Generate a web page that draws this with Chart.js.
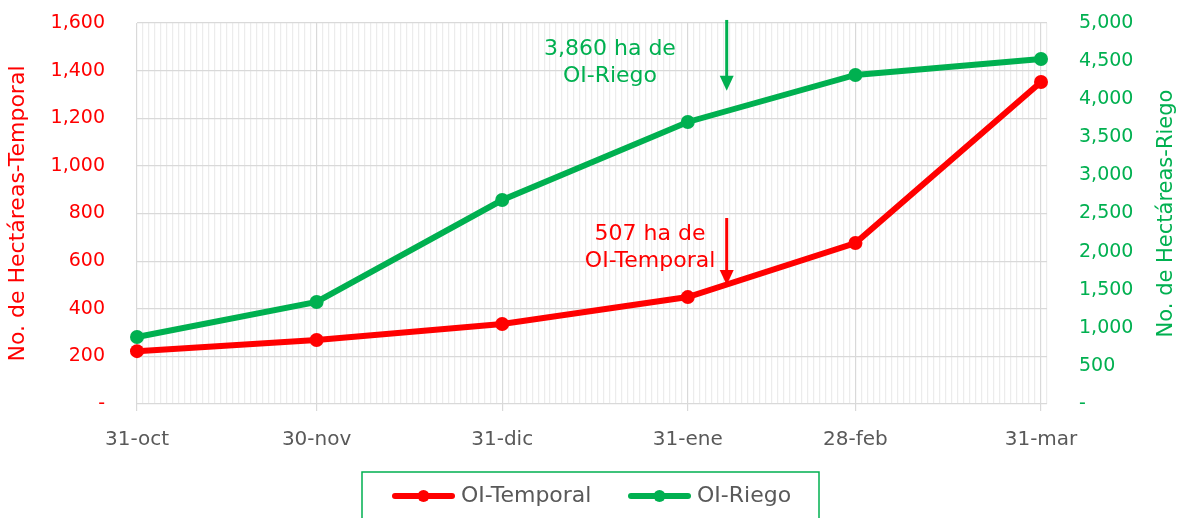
<!DOCTYPE html>
<html>
<head>
<meta charset="utf-8">
<script src="https://cdn.jsdelivr.net/npm/chart.js@4.4.1/dist/chart.umd.min.js"></script>
<style>
  html, body { margin: 0; padding: 0; background: #fff; }
  #wrap { width: 1181px; height: 518px; }
</style>
</head>
<body>
<div id="wrap"><canvas id="chart" width="1181" height="518"></canvas></div>
<script>
// fechas de corte y días transcurridos desde 31-oct
const dateLabels = ["31-oct", "30-nov", "31-dic", "31-ene", "28-feb", "31-mar"];
const dayOffsets = [0, 30, 61, 92, 120, 151];

// hectáreas acumuladas
const temporal = [222, 269, 336, 449, 676, 1352];
const riego = [879, 1339, 2677, 3701, 4318, 4528];

const RED = '#ff0000';
const GREEN = '#00b050';
const GRAY = '#595959';
const FONT = "'DejaVu Sans', sans-serif";

const fmt = (v) => v === 0 ? '-' : v.toLocaleString('en-US');

// notas con flecha
const notes = [
    { lines: ["3,860 ha de", "OI-Riego"], color: GREEN, axis: 'y2', textDay: 79, textVals: [4660, 4305], arrowDay: 98.5, arrowFrom: 5040, arrowTo: 4110 },
    { lines: ["507 ha de", "OI-Temporal"], color: RED, axis: 'y', textDay: 85.7, textVals: [712, 600], arrowDay: 98.5, arrowFrom: 781, arrowTo: 500 }
];

const notesPlugin = {
    id: 'notes',
    afterDatasetsDraw(chart) {
        const ctx = chart.ctx;
        const xs = chart.scales.x;
        notes.forEach(n => {
            const ys = chart.scales[n.axis];
            ctx.save();
            ctx.fillStyle = n.color;
            ctx.strokeStyle = n.color;
            ctx.font = '22px ' + FONT;
            ctx.textAlign = 'center';
            ctx.textBaseline = 'middle';
            n.lines.forEach((t, i) => {
                ctx.fillText(t, xs.getPixelForValue(n.textDay), ys.getPixelForValue(n.textVals[i]));
            });
            const ax = xs.getPixelForValue(n.arrowDay);
            const y0 = ys.getPixelForValue(n.arrowFrom);
            const y1 = ys.getPixelForValue(n.arrowTo);
            ctx.lineWidth = 3;
            ctx.beginPath();
            ctx.moveTo(ax, y0);
            ctx.lineTo(ax, y1 - 12);
            ctx.stroke();
            ctx.beginPath();
            ctx.moveTo(ax - 7, y1 - 15);
            ctx.lineTo(ax + 7, y1 - 15);
            ctx.lineTo(ax, y1);
            ctx.closePath();
            ctx.fill();
            ctx.restore();
        });
    }
};

// título del eje derecho, leído de abajo hacia arriba como el izquierdo
const rightTitlePlugin = {
    id: 'rightTitle',
    afterDraw(chart) {
        const ctx = chart.ctx;
        const a = chart.chartArea;
        ctx.save();
        ctx.translate(1167, (a.top + a.bottom) / 2);
        ctx.rotate(-Math.PI / 2);
        ctx.fillStyle = GREEN;
        ctx.font = '21px ' + FONT;
        ctx.textAlign = 'center';
        ctx.textBaseline = 'middle';
        ctx.fillText('No. de Hectáreas-Riego', 0, 0);
        ctx.restore();
    }
};

// leyenda con línea y punto, dentro de un recuadro verde
const legendPlugin = {
    id: 'boxLegend',
    afterDraw(chart) {
        const ctx = chart.ctx;
        const cx = chart.width / 2;
        const top = 472;
        const boxW = 457;
        ctx.save();
        ctx.strokeStyle = GREEN;
        ctx.lineWidth = 1.5;
        ctx.strokeRect(cx - boxW / 2, top, boxW, 80);
        ctx.font = '22px ' + FONT;
        ctx.textBaseline = 'middle';
        const cy = 496;
        let x = cx - boxW / 2 + 33;
        chart.data.datasets.forEach(ds => {
            ctx.strokeStyle = ds.borderColor;
            ctx.fillStyle = ds.borderColor;
            ctx.lineWidth = 6;
            ctx.lineCap = 'round';
            ctx.beginPath();
            ctx.moveTo(x, cy);
            ctx.lineTo(x + 57, cy);
            ctx.stroke();
            ctx.beginPath();
            ctx.arc(x + 28.5, cy, 6, 0, Math.PI * 2);
            ctx.fill();
            ctx.fillStyle = GRAY;
            ctx.fillText(ds.label, x + 66, cy);
            x += 236;
        });
        ctx.restore();
    }
};

const ctx = document.getElementById('chart').getContext('2d');
new Chart(ctx, {
    type: 'line',
    data: {
        datasets: [{
            label: 'OI-Temporal',
            data: dayOffsets.map((d, i) => ({ x: d, y: temporal[i] })),
            borderColor: RED,
            backgroundColor: RED,
            borderWidth: 6,
            pointRadius: 7,
            pointBorderWidth: 0,
            yAxisID: 'y',
            clip: false
        }, {
            label: 'OI-Riego',
            data: dayOffsets.map((d, i) => ({ x: d, y: riego[i] })),
            borderColor: GREEN,
            backgroundColor: GREEN,
            borderWidth: 6,
            pointRadius: 7,
            pointBorderWidth: 0,
            yAxisID: 'y2',
            clip: false
        }]
    },
    options: {
        responsive: false,
        animation: false,
        layout: { padding: { top: 23, bottom: 54, left: 0, right: 0 } },
        plugins: { legend: { display: false }, tooltip: { enabled: false } },
        scales: {
            x: {
                type: 'linear',
                min: 0,
                max: 152,
                afterFit: (s) => { s.height = 60; },
                border: { display: false },
                grid: {
                    color: (c) => dayOffsets.includes(c.tick.value) ? '#d9d9d9' : '#ececec',
                    tickColor: (c) => dayOffsets.includes(c.tick.value) ? '#d9d9d9' : 'rgba(0,0,0,0)',
                    tickLength: 7,
                    lineWidth: 1.2
                },
                ticks: {
                    stepSize: 1,
                    autoSkip: false,
                    maxRotation: 0,
                    maxTicksLimit: 500,
                    padding: 17,
                    color: GRAY,
                    font: { family: FONT, size: 20 },
                    callback: (v) => {
                        const i = dayOffsets.indexOf(v);
                        return i >= 0 ? dateLabels[i] : '';
                    }
                }
            },
            y: {
                position: 'left',
                min: 0,
                max: 1600,
                afterFit: (s) => { s.width = 137; },
                border: { display: false },
                grid: { color: '#d9d9d9', lineWidth: 1.2, tickLength: 32, tickColor: 'rgba(0,0,0,0)' },
                ticks: {
                    stepSize: 200,
                    padding: 0,
                    color: RED,
                    font: { family: FONT, size: 19 },
                    callback: fmt
                },
                title: {
                    display: true,
                    text: 'No. de Hectáreas-Temporal',
                    color: RED,
                    padding: { top: 5, bottom: 0 },
                    font: { family: FONT, size: 22 }
                }
            },
            y2: {
                position: 'right',
                min: 0,
                max: 5000,
                afterFit: (s) => { s.width = 134; },
                border: { display: false },
                grid: { drawOnChartArea: false, tickLength: 32, tickColor: 'rgba(0,0,0,0)' },
                ticks: {
                    stepSize: 500,
                    padding: 0,
                    color: GREEN,
                    font: { family: FONT, size: 19 },
                    callback: fmt
                }
            }
        }
    },
    plugins: [notesPlugin, rightTitlePlugin, legendPlugin]
});
</script>
</body>
</html>
